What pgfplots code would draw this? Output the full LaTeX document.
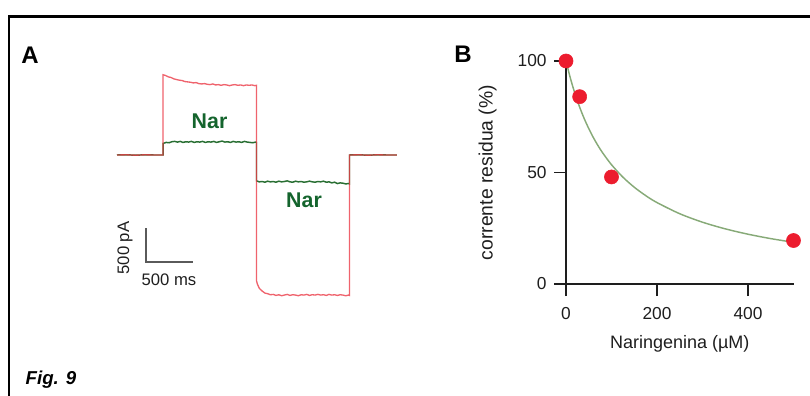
\documentclass[border=0pt]{standalone}
\usepackage{fontspec}
\setmainfont{Liberation Sans}
\usepackage{pgfplots}
\pgfplotsset{compat=1.18}
\definecolor{ptred}{RGB}{236,28,46}
\definecolor{fitgreen}{RGB}{135,170,120}
\definecolor{trred}{RGB}{235,60,72}
\definecolor{trgreen}{RGB}{40,110,50}
\definecolor{nargreen}{RGB}{20,100,45}
\definecolor{bargray}{RGB}{90,90,90}
\definecolor{axgray}{RGB}{30,30,30}
\begin{document}
\begin{tikzpicture}[x=0.75pt,y=0.75pt]
\path[use as bounding box] (0,0) rectangle (810,396);
\draw[line width=2.2pt,black] (9,0) -- (9,379.5) -- (810,379.5);
\node[font=\bfseries\fontsize{18}{20}\selectfont] at (30,341) {A};
\node[font=\bfseries\fontsize{18}{20}\selectfont] at (463,342) {B};
\node[anchor=base west,font=\bfseries\itshape\fontsize{14}{16}\selectfont] at (21,11) {Fig. 9};

% Panel A: current traces
\begin{axis}[anchor=south west, at={(87.75pt,73.65pt)}, x=0.06975pt, y=0.051pt,
  xmin=0, xmax=3010, ymin=-2100, ymax=1200, axis lines=none, clip=false]
\addplot[trgreen, line width=1.1pt] coordinates {
(0,0) (100,3) (200,-3) (300,3) (400,0) (495,0)
(495,170) (530,185) (560,180) (590,195) (620,200) (650,190) (680,200) (710,185) (740,195) (770,190) (800,200) (830,185) (860,195) (890,190) (920,200) (950,185) (980,195) (1010,190) (1040,200) (1070,185) (1100,195) (1130,205) (1160,190) (1190,195) (1220,185) (1250,200) (1280,190) (1310,195) (1340,185) (1370,200) (1400,190) (1430,185) (1460,180) (1490,190) (1500,185)
(1500,-380) (1530,-395) (1560,-390) (1590,-400) (1620,-385) (1650,-395) (1680,-390) (1710,-400) (1740,-385) (1770,-395) (1800,-390) (1830,-380) (1860,-395) (1890,-400) (1920,-385) (1950,-395) (1980,-390) (2010,-400) (2040,-395) (2070,-385) (2100,-395) (2130,-400) (2160,-390) (2190,-395) (2220,-385) (2250,-400) (2280,-395) (2310,-410) (2340,-400) (2370,-420) (2400,-410) (2430,-415) (2460,-425) (2490,-420) (2500,-425)
(2500,0) (2600,3) (2700,-3) (2800,3) (2900,0) (3010,0)
};
\addplot[trred, line width=1pt, opacity=0.8] coordinates {
(0,0) (100,3) (200,-3) (300,3) (400,0) (495,0)
(495,1180) (520,1170) (550,1150) (580,1140) (610,1120) (640,1110) (670,1100) (700,1095) (730,1080) (760,1075) (790,1070) (820,1060) (850,1065) (880,1050) (910,1045) (940,1050) (970,1040) (1000,1035) (1030,1045) (1060,1030) (1090,1035) (1120,1025) (1150,1035) (1180,1030) (1210,1020) (1240,1030) (1270,1035) (1300,1025) (1330,1030) (1360,1020) (1390,1030) (1420,1025) (1450,1030) (1480,1020) (1500,1025)
(1500,-1850) (1510,-1900) (1530,-1960) (1560,-2000) (1590,-2030) (1620,-2040) (1650,-2055) (1680,-2050) (1710,-2065) (1740,-2055) (1770,-2070) (1800,-2060) (1830,-2050) (1860,-2065) (1890,-2055) (1920,-2060) (1950,-2070) (1980,-2055) (2010,-2060) (2040,-2050) (2070,-2065) (2100,-2055) (2130,-2060) (2160,-2050) (2190,-2060) (2220,-2055) (2250,-2065) (2280,-2050) (2310,-2060) (2340,-2055) (2370,-2065) (2400,-2055) (2430,-2060) (2460,-2070) (2490,-2060) (2500,-2065)
(2500,0) (2600,3) (2700,-3) (2800,3) (2900,0) (3010,0)
};
\draw[bargray, line width=1.1pt] (axis cs:312,-1074) -- (axis cs:312,-1574) -- (axis cs:812,-1574);
\node[rotate=90, font=\fontsize{12.5}{14}\selectfont, text=axgray] at (axis cs:86,-1368) {500 pA};
\node[font=\fontsize{12.5}{14}\selectfont, text=axgray] at (axis cs:559,-1838) {500 ms};
\node[font=\bfseries\fontsize{16}{18}\selectfont, text=nargreen] at (axis cs:995,493) {Nar};
\node[font=\bfseries\fontsize{16}{18}\selectfont, text=nargreen] at (axis cs:2011,-669) {Nar};
\end{axis}

% Panel B: dose-response
\begin{axis}[anchor=south west, at={(424.5pt,84pt)}, x=0.34125pt, y=1.6725pt,
  xmin=0, xmax=500, ymin=0, ymax=100, clip=false,
  axis x line*=bottom, axis y line*=left,
  axis line style={-, line width=1.4pt, axgray},
  tick style={line width=1.4pt, axgray},
  major tick length=9pt, tick align=outside,
  xtick={0,200,400}, ytick={0,50,100},
  ticklabel style={font=\fontsize{13}{15}\selectfont, text=axgray},
  xticklabel style={yshift=-5pt},
  yticklabel style={xshift=-2pt},
  /pgf/number format/assume math mode=true,
  xlabel={Naringenina (µM)}, ylabel={corrente residua (\%)},
  xlabel style={font=\fontsize{13.5}{15}\selectfont, text=axgray, at={(axis description cs:0.5,-0.27)}, anchor=center},
  ylabel style={font=\fontsize{14.5}{16}\selectfont, text=axgray, at={(axis description cs:-0.345,0.5)}, anchor=center},
]
\addplot[fitgreen, line width=1.1pt, smooth] coordinates {
(0,100) (10,92.0) (20,85.19) (30,79.31) (40,74.19) (50,69.70) (60,65.71) (70,62.16) (80,58.97) (100,53.49) (125,47.92) (150,43.40) (175,39.66) (200,36.51) (250,31.51) (300,27.71) (350,24.73) (400,22.33) (450,20.35) (500,18.70)
};
\addplot[only marks, mark=*, mark size=5.3pt, mark options={fill=ptred, draw=ptred}] coordinates {
(0,100) (30,84) (100,48) (500,19.5)
};
\end{axis}
\end{tikzpicture}
\end{document}
